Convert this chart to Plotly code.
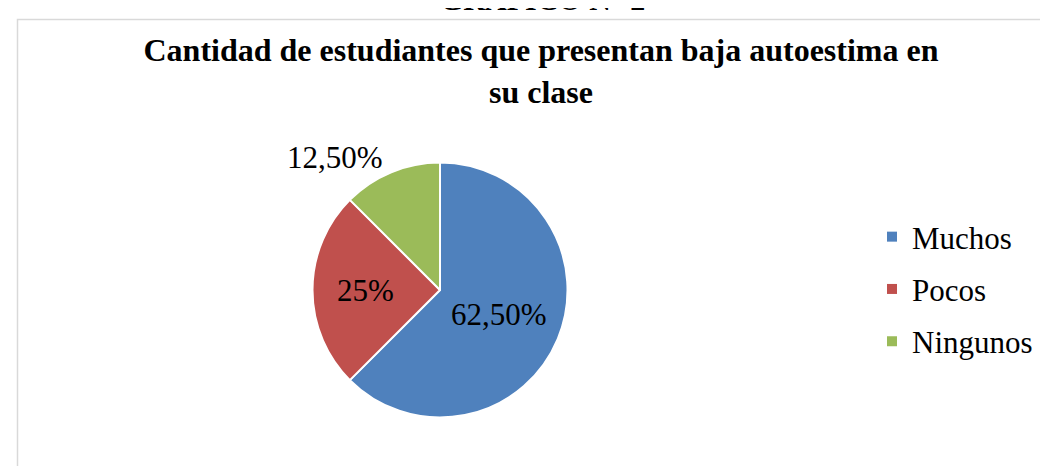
import plotly.graph_objects as go

categories = ["Muchos", "Pocos", "Ningunos"]
values = [62.5, 25.0, 12.5]
colors = ["#4F81BD", "#C0504D", "#9BBB59"]
label_positions = ["inside", "inside", "outside"]


def fmt(v):
    if float(v).is_integer():
        return f"{int(v)}%"
    return f"{v:.2f}".replace(".", ",") + "%"


texts = [fmt(v) for v in values]

SERIF = "Liberation Serif, Times New Roman, DejaVu Serif, serif"
W, H = 1048, 466
cx, cy, r = 432, 282, 127.5

fig = go.Figure()
fig.add_trace(
    go.Pie(
        labels=categories,
        values=values,
        text=texts,
        textinfo="text",
        textposition=label_positions,
        insidetextorientation="horizontal",
        sort=False,
        direction="clockwise",
        rotation=0,
        showlegend=False,
        marker=dict(colors=colors, line=dict(color="white", width=2)),
        textfont=dict(family=SERIF, size=31, color="black"),
        insidetextfont=dict(family=SERIF, size=31, color="black"),
        outsidetextfont=dict(family=SERIF, size=31, color="black"),
        domain=dict(
            x=[(cx - r) / W, (cx + r) / W],
            y=[(H - cy - r) / H, (H - cy + r) / H],
        ),
        hoverinfo="label+percent",
    )
)

for cat, col in zip(categories, colors):
    fig.add_trace(
        go.Scatter(
            x=[None],
            y=[None],
            mode="markers",
            name=cat,
            legendgroup=cat,
            marker=dict(symbol="square", size=10, color=col),
            hoverinfo="skip",
        )
    )

fig.update_layout(
    width=W,
    height=H,
    margin=dict(l=0, r=0, t=0, b=0),
    paper_bgcolor="white",
    plot_bgcolor="rgba(0,0,0,0)",
    font=dict(family=SERIF, color="black"),
    xaxis=dict(visible=False),
    yaxis=dict(visible=False),
    title=dict(
        text="<b>Cantidad de estudiantes que presentan baja autoestima en<br>su clase</b>",
        x=533 / W,
        xanchor="center",
        y=1 - 53 / H,
        yanchor="top",
        yref="container",
        font=dict(family=SERIF, size=32, color="black"),
    ),
    legend=dict(
        x=864 / W,
        xanchor="left",
        y=0.5 + (H / 2 - 281) / H,
        yanchor="middle",
        font=dict(family=SERIF, size=31, color="black"),
        bgcolor="rgba(0,0,0,0)",
        tracegroupgap=9,
        traceorder="grouped",
    ),
    shapes=[
        dict(
            type="rect",
            xref="paper",
            yref="paper",
            x0=9.5 / W,
            x1=1.02,
            y0=-0.02,
            y1=(H - 11.5) / H,
            line=dict(color="#d9d9d9", width=1.5),
            fillcolor="rgba(0,0,0,0)",
            layer="below",
        )
    ],
    annotations=[
        dict(
            text="<b>GRÁFICO N° 2</b>",
            xref="paper",
            yref="paper",
            x=534 / W,
            y=(H - 10.5) / H,
            xanchor="center",
            yanchor="bottom",
            showarrow=False,
            font=dict(family=SERIF, size=30, color="black"),
        )
    ],
)

fig.write_html("out.html")
